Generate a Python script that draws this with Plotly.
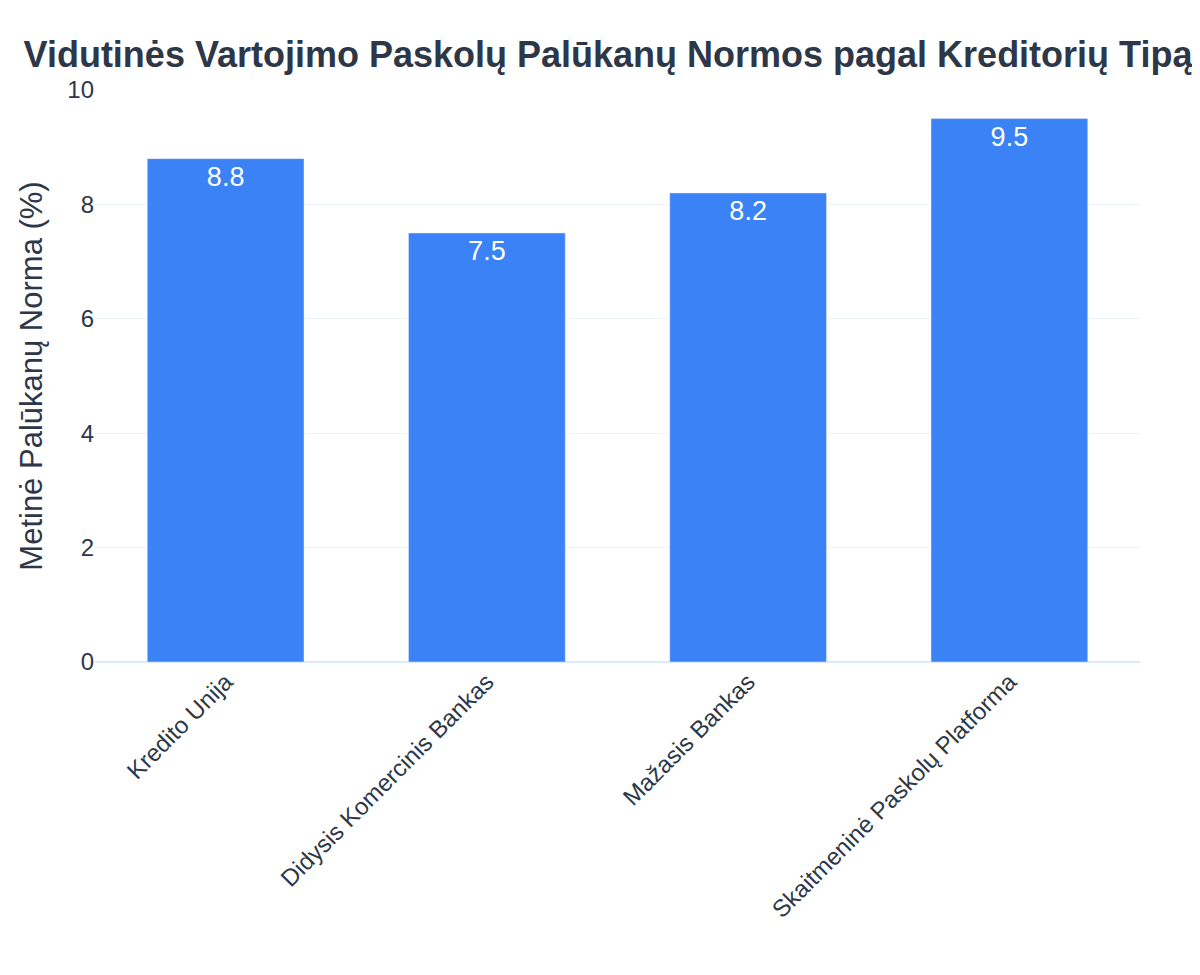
import plotly.graph_objects as go

categories = ["Kredito Unija", "Didysis Komercinis Bankas", "Mažasis Bankas", "Skaitmeninė Paskolų Platforma"]
rates = [8.8, 7.5, 8.2, 9.5]

fig = go.Figure(go.Bar(
    x=categories, y=rates, marker_color="#3b82f6", width=0.6,
    text=[f"{v:.1f}" for v in rates], textposition="inside", insidetextanchor="end",
    textfont=dict(color="white", size=27),
))
fig.update_layout(
    width=1200, height=975,
    font=dict(family="Liberation Sans, Arial, sans-serif", color="#2d3748"),
    title=dict(text="<b>Vidutinės Vartojimo Paskolų Palūkanų Normos pagal Kreditorių Tipą</b>",
               x=0.5, xanchor="center", y=0.965, font=dict(size=36, color="#2d3748")),
    plot_bgcolor="white", paper_bgcolor="white",
    margin=dict(l=87, r=68, t=82, b=321),
    showlegend=False,
)
fig.update_yaxes(range=[0, 10], dtick=2, gridcolor="#edf2f7", zeroline=True, zerolinecolor="#dbeafe",
                 zerolinewidth=2, tickfont=dict(size=24),
                 title=dict(text="Metinė Palūkanų Norma (%)", font=dict(size=31)))
fig.update_xaxes(tickangle=-45, tickfont=dict(size=24))
fig.write_html("out.html")
